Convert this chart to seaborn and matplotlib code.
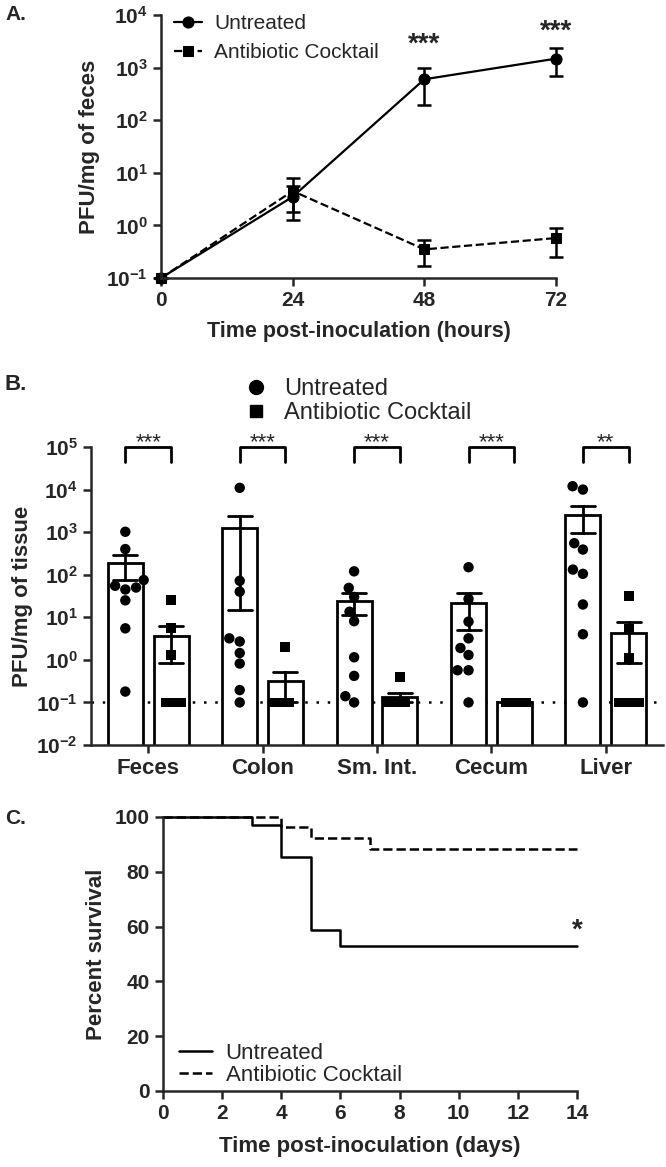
import numpy as np
import pandas as pd
import matplotlib
matplotlib.use("Agg")
import matplotlib.pyplot as plt
import seaborn as sns
from matplotlib.lines import Line2D
from matplotlib.ticker import FixedLocator, FuncFormatter, NullLocator

# Configure style
sns.set_style("ticks")
plt.rcParams["font.family"] = ["Liberation Sans", "DejaVu Sans"]
plt.rcParams["font.weight"] = "bold"
plt.rcParams["axes.labelweight"] = "bold"
plt.rcParams["mathtext.fontset"] = "custom"
plt.rcParams["mathtext.rm"] = "Liberation Sans:bold"
plt.rcParams["mathtext.bf"] = "Liberation Sans:bold"
plt.rcParams["mathtext.it"] = "Liberation Sans:bold"
plt.rcParams["axes.linewidth"] = 1.8
np.random.seed(3)  # jitter of the points sitting at the detection limit

# ---------- Panel A: fecal shedding ----------
hours = [0, 24, 48, 72]
untreated_mean = [0.1, 3.5, 600, 1480]
untreated_low = [0.1, 1.25, 195, 690]
untreated_high = [0.1, 5.5, 1000, 2350]
abx_mean = [0.1, 4.5, 0.35, 0.575]
abx_low = [0.1, 1.8, 0.17, 0.25]
abx_high = [0.1, 8.0, 0.52, 0.91]
sig_a = {48: "***", 72: "***"}

# ---------- Panel B: tissue titers (one value per mouse) ----------
tissues = ["Feces", "Colon", "Sm. Int.", "Cecum", "Liver"]
groups = ["Untreated", "Antibiotic Cocktail"]
feces_u = [1020, 400, 75, 55, 50, 45, 25, 5.5, 0.18]
colon_u = [11000, 72, 40, 3.2, 2.7, 1.45, 0.82, 0.195, 0.1]
smint_u = [120, 49, 30, 13.5, 8.1, 1.15, 0.42, 0.14, 0.1]
cecum_u = [150, 27, 7.9, 3.2, 1.9, 1.3, 0.57, 0.57, 0.1]
liver_u = [12000, 10000, 550, 390, 132, 105, 20, 4.0, 0.1]
feces_a = [25, 5.5, 1.3, 0.1, 0.1, 0.1, 0.1, 0.1, 0.1]
colon_a = [2.0, 0.1, 0.1, 0.1, 0.1, 0.1, 0.1, 0.1, 0.1]
smint_a = [0.4, 0.1, 0.1, 0.1, 0.1, 0.1, 0.1, 0.1, 0.1]
cecum_a = [0.1, 0.1, 0.1, 0.1, 0.1, 0.1, 0.1, 0.1, 0.1]
liver_a = [32, 5.3, 1.1, 0.1, 0.1, 0.1, 0.1, 0.1, 0.1]
sig_b = ["***", "***", "***", "***", "**"]
detection_limit = 0.1

# ---------- Panel C: survival ----------
untreated_days = [0, 3, 4, 5, 6, 14]
untreated_surv = [100, 97.1, 85.3, 58.8, 52.9, 52.9]
abx_days = [0, 4, 5, 7, 14]
abx_surv = [100, 96.2, 92.3, 88.5, 88.5]

rows = []
for tissue, u_vals, a_vals in zip(
    tissues,
    [feces_u, colon_u, smint_u, cecum_u, liver_u],
    [feces_a, colon_a, smint_a, cecum_a, liver_a],
):
    rows += [{"tissue": tissue, "group": groups[0], "pfu": v} for v in u_vals]
    rows += [{"tissue": tissue, "group": groups[1], "pfu": v} for v in a_vals]
df = pd.DataFrame(rows)

# ---------- Figure layout (pixel boxes) ----------
W, H = 666, 1167
fig = plt.figure(figsize=(W / 100, H / 100), dpi=100)


def px_axes(left, top, right, bottom):
    return fig.add_axes([left / W, 1 - bottom / H, (right - left) / W, (bottom - top) / H])


axA = px_axes(161, 15, 556, 278)
axB = px_axes(91, 447, 663, 745)
axC = px_axes(163, 817, 577, 1091)

log_fmt = FuncFormatter(lambda v, pos: r"$\mathbf{10^{%d}}$" % round(np.log10(v)))

# ---------- Panel A ----------
sns.lineplot(x=hours, y=untreated_mean, ax=axA, color="k", marker="o", markersize=8,
             markeredgecolor="k", linewidth=1.6, clip_on=False, label=groups[0])
sns.lineplot(x=hours, y=abx_mean, ax=axA, color="k", marker="s", markersize=7.5,
             markeredgecolor="k", linewidth=1.6, linestyle="--", clip_on=False, label=groups[1])
for m, lo, hi in [(untreated_mean, untreated_low, untreated_high), (abx_mean, abx_low, abx_high)]:
    axA.errorbar(hours, m, yerr=[np.subtract(m, lo), np.subtract(hi, m)], fmt="none",
                 ecolor="k", elinewidth=1.8, capsize=5, capthick=1.8, clip_on=False)
axA.set_yscale("log")
axA.set_ylim(0.1, 1e4)
axA.set_xlim(0, 72)
axA.xaxis.set_major_locator(FixedLocator(hours))
axA.yaxis.set_major_locator(FixedLocator([10.0 ** k for k in range(-1, 5)]))
axA.yaxis.set_minor_locator(NullLocator())
axA.yaxis.set_major_formatter(log_fmt)
for x, s in sig_a.items():
    axA.text(x, 10 ** 3.3 if x == 48 else 10 ** 3.55, s, ha="center", va="baseline", fontsize=20)
axA.set_xlabel("Time post-inoculation (hours)", fontsize=15.5)
axA.set_ylabel("PFU/mg of feces", fontsize=16)
axA.xaxis.set_label_coords(0.5, -0.165)
axA.yaxis.set_label_coords(-0.154, 0.5)
axA.legend(loc="upper left", bbox_to_anchor=(-0.015, 1.075), frameon=False,
           prop={"weight": "normal", "size": 15}, handlelength=1.35, handletextpad=0.6,
           labelspacing=0.5)

# ---------- Panel B ----------
axB.axhline(detection_limit, color="k", linestyle=(0, (1, 3.5)), linewidth=1.8, zorder=0.5)
sns.barplot(data=df, x="tissue", y="pfu", hue="group", order=tissues, hue_order=groups,
            palette=["white", "white"], edgecolor="k", linewidth=2, errorbar="se",
            capsize=0.42, err_kws={"color": "k", "linewidth": 2}, width=0.8, gap=0.235,
            legend=False, ax=axB)
above = df["pfu"] > detection_limit
swarm_sets = [(df[df["group"] == groups[0]], "o", 7.5),
              (df[(df["group"] == groups[1]) & above], "s", 7)]
for sub, mk, sz in swarm_sets:
    sns.swarmplot(data=sub, x="tissue", y="pfu", hue="group", order=tissues,
                  hue_order=groups, dodge=True, palette=["k", "k"], marker=mk, size=sz,
                  legend=False, ax=axB)
# antibiotic-treated mice at the detection limit pile up into a band
sns.stripplot(data=df[(df["group"] == groups[1]) & ~above], x="tissue", y="pfu",
              hue="group", order=tissues, hue_order=groups, dodge=True, jitter=0.22,
              palette=["k", "k"], marker="s", size=7, legend=False, ax=axB)
axB.set_yscale("log")
axB.set_ylim(0.01, 1e5)
axB.set_xlim(-0.5, 4.5)
axB.yaxis.set_major_locator(FixedLocator([10.0 ** k for k in range(-2, 6)]))
axB.yaxis.set_minor_locator(NullLocator())
axB.yaxis.set_major_formatter(log_fmt)
for i, s in enumerate(sig_b):
    axB.plot([i - 0.2, i - 0.2, i + 0.2, i + 0.2], [10 ** 4.65, 1e5, 1e5, 10 ** 4.65],
             color="k", linewidth=2, clip_on=False)
    axB.text(i, 10 ** 4.97, s, ha="center", va="baseline", fontsize=16, fontweight="normal")
axB.set_xlabel("")
axB.set_ylabel("PFU/mg of tissue", fontsize=16)
axB.yaxis.set_label_coords(-0.101, 0.5)
handles_b = [Line2D([], [], marker="o", ls="", color="k", markersize=10),
             Line2D([], [], marker="s", ls="", color="k", markersize=9)]
fig.legend(handles_b, groups, loc="upper left", bbox_to_anchor=(230 / W, 1 - 366 / H),
           frameon=False, prop={"weight": "normal", "size": 17}, handlelength=1.2,
           handletextpad=0.6, labelspacing=0.1, borderpad=0)

# ---------- Panel C ----------
sns.lineplot(x=untreated_days, y=untreated_surv, drawstyle="steps-post", color="k",
             linewidth=1.8, ax=axC, label=groups[0], clip_on=False)
sns.lineplot(x=abx_days, y=abx_surv, drawstyle="steps-post", color="k", linewidth=1.8,
             linestyle="--", ax=axC, label=groups[1], clip_on=False)
axC.set_xlim(0, 14)
axC.set_ylim(0, 100)
axC.xaxis.set_major_locator(FixedLocator(range(0, 15, 2)))
axC.yaxis.set_major_locator(FixedLocator(range(0, 101, 20)))
axC.text(14, 56, "*", ha="center", va="baseline", fontsize=20)
axC.set_xlabel("Time post-inoculation (days)", fontsize=16)
axC.set_ylabel("Percent survival", fontsize=16)
axC.xaxis.set_label_coords(0.5, -0.165)
axC.yaxis.set_label_coords(-0.135, 0.5)
axC.legend(loc="lower left", bbox_to_anchor=(-0.01, -0.055), frameon=False,
           prop={"weight": "normal", "size": 16}, handlelength=1.5, handletextpad=0.6,
           labelspacing=0.05)

for ax in (axA, axB, axC):
    sns.despine(ax=ax)
    ax.tick_params(width=1.8, length=6, labelsize=15)
axB.tick_params(axis="x", labelsize=16)

fig.text(5 / W, 1 - 15 / H, "A.", fontsize=15, va="center")
fig.text(5 / W, 1 - 385 / H, "B.", fontsize=16, va="center")
fig.text(5 / W, 1 - 818 / H, "C.", fontsize=15, va="center")

fig.savefig("out.png", dpi=100)
